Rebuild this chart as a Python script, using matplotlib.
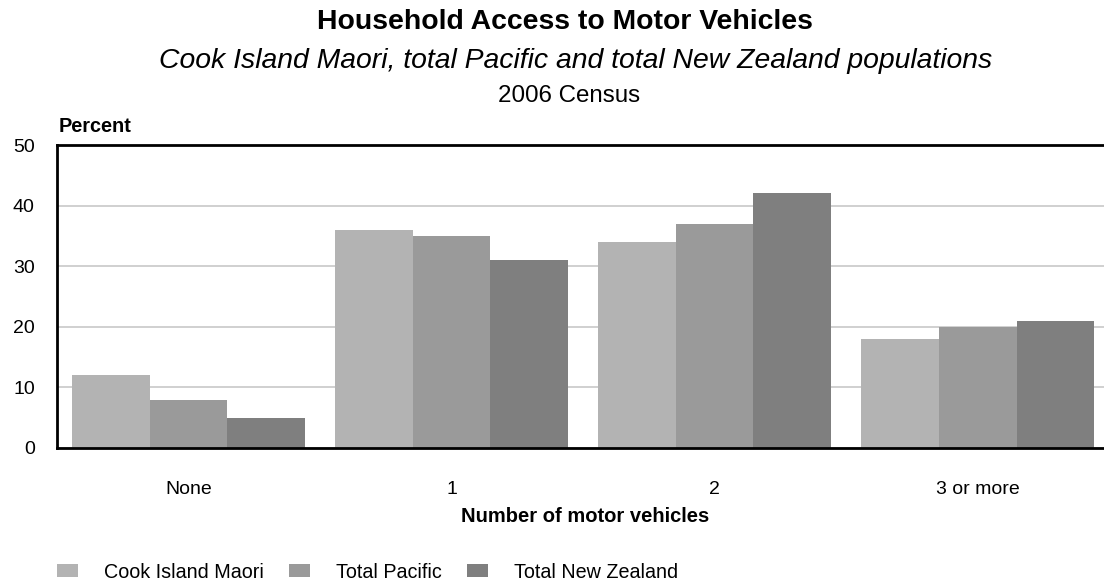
import matplotlib
matplotlib.use('Agg')
import matplotlib.pyplot as plt
import numpy as np

plt.rcParams['font.family'] = ['Liberation Sans', 'DejaVu Sans']

categories = ['None', '1', '2', '3 or more']
series_names = ['Cook Island Maori', 'Total Pacific', 'Total New Zealand']
cook_island_maori = [12, 36, 34, 18]
total_pacific = [8, 35, 37, 20]
total_nz = [5, 31, 42, 21]
colors = ['#b3b3b3', '#9a9a9a', '#7f7f7f']

fig = plt.figure(figsize=(11.04, 5.81), dpi=100)
ax = fig.add_axes([57 / 1104, 1 - 448 / 581, 1 - 57 / 1104, (448 - 145) / 581])

x = np.arange(len(categories))
w = 0.295
for i, (vals, name) in enumerate(zip([cook_island_maori, total_pacific, total_nz], series_names)):
    ax.bar(x + (i - 1) * w, vals, w, color=colors[i], label=name, zorder=3)

ax.set_xlim(-0.5, 3.48)
ax.set_ylim(0, 50)
ax.set_yticks(range(0, 51, 10))
ax.set_xticks(x)
ax.set_xticklabels(categories)
ax.tick_params(axis='both', length=0, labelsize=14)
ax.tick_params(axis='y', pad=16)
ax.tick_params(axis='x', pad=24)
ax.grid(axis='y', color='#c8c8c8', linewidth=1.2, zorder=0)
for s in ['left', 'bottom', 'top']:
    ax.spines[s].set_linewidth(2)
    ax.spines[s].set_color('black')
ax.spines['right'].set_visible(False)
ax.spines['bottom'].set_zorder(4)

ax.set_xlabel('Number of motor vehicles', fontsize=14.5, fontweight='bold')
ax.xaxis.set_label_coords(528 / 1047, -0.195)

fig.text(565 / 1104, 1 - 22 / 581, 'Household Access to Motor Vehicles', ha='center', va='center',
         fontsize=20.4, fontweight='bold')
fig.text(576 / 1104, 1 - 61 / 581, 'Cook Island Maori, total Pacific and total New Zealand populations',
         ha='center', va='center', fontsize=20.4, style='italic')
fig.text(569 / 1104, 1 - 96 / 581, '2006 Census', ha='center', va='center', fontsize=17.4)
fig.text(59 / 1104, 1 - 127 / 581, 'Percent', ha='left', va='center', fontsize=14.3, fontweight='bold')

fig.legend(loc='center left', bbox_to_anchor=(57 / 1104, 1 - 572 / 581), ncol=3, frameon=False,
           fontsize=14.2, handlelength=1.08, handleheight=0.67, handletextpad=1.29, columnspacing=1.29,
           borderpad=0, borderaxespad=0)

fig.savefig('out.png', dpi=100)
